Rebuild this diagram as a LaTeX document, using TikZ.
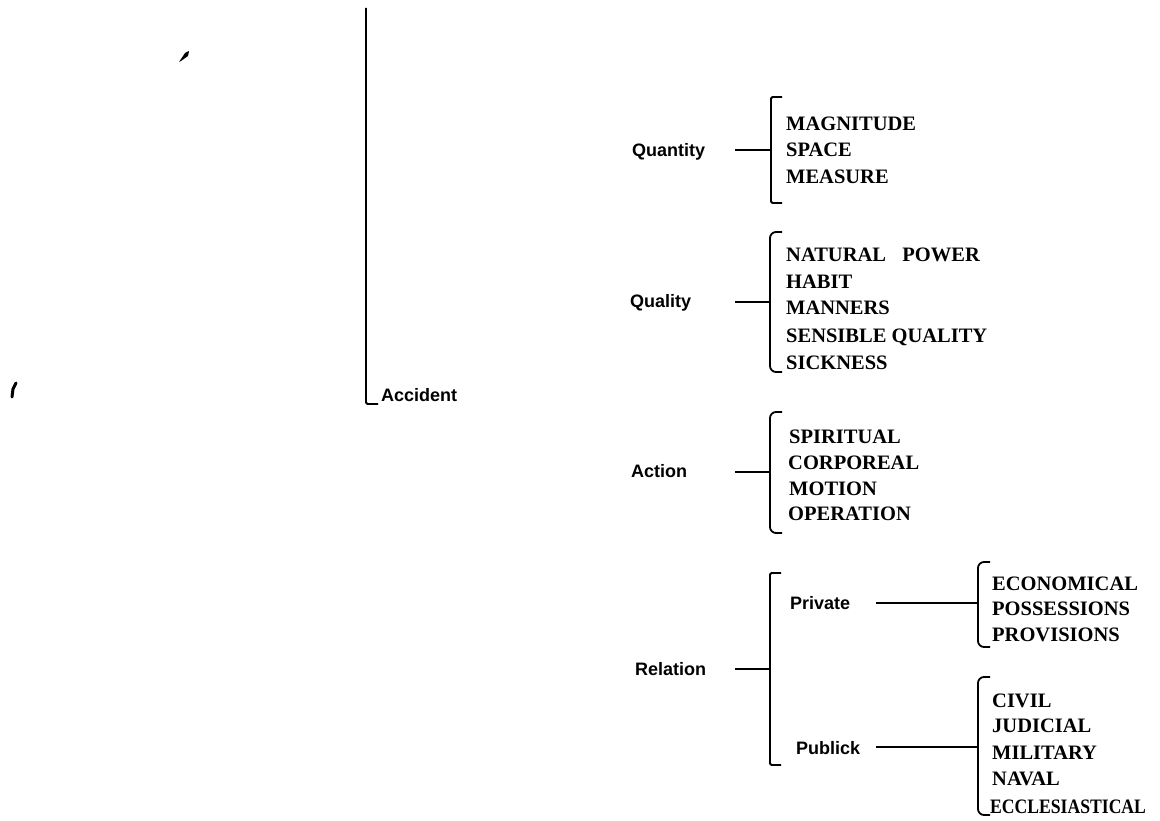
\documentclass[tikz,border=0pt]{standalone}
\usepackage{fontspec}
\newfontfamily\itemfam{Liberation Serif}
\newfontfamily\labfam{Liberation Sans}
\begin{document}
\begin{tikzpicture}[x=1pt,y=-1pt,
  item/.style={font=\itemfam\bfseries\fontsize{20.5}{24}\selectfont, anchor=base west, inner sep=0pt},
  lab/.style={font=\labfam\bfseries\fontsize{18}{22}\selectfont, anchor=base west, inner sep=0pt},
  conn/.style={line width=1.6pt},
  brk/.style={line width=1.8pt, rounded corners=1.5pt},
  curvedbrk/.style={line width=1.8pt, rounded corners=6pt}]
\useasboundingbox (0,0) rectangle (1160,821);

% stray marks of the scan
\fill (179,62) -- (185,53) -- (189,51) -- (188,56) -- (181,61) -- cycle;
\draw[line width=3pt, line cap=round] (12,397) -- (13,389) -- (16,383);

% main bracket
\coordinate (mT) at (366,8);
\coordinate (mB) at (366,404);
\draw[brk] (mT) -- (mB) -- ++(12,0);
\node[lab] (acc) at (381,401) {Accident};

% Quantity
\node[lab] (qty) at (632,157) {Quantity};
\coordinate (qtyS) at (735,150);
\coordinate (qtyB) at (771,150);
\coordinate (qtyT) at (771,97);
\coordinate (qtyE) at (771,203);
\draw[conn] (qtyS) -- (qtyB);
\draw[brk] ([xshift=11pt]qtyT) -- (qtyT) -- (qtyE) -- ([xshift=11pt]qtyE);
\node[item] (q1) at (786,131) {MAGNITUDE};
\node[item] (q2) at (786,157) {SPACE};
\node[item] (q3) at (786,184) {MEASURE};

% Quality
\node[lab] (qual) at (630,308) {Quality};
\coordinate (qualS) at (735,302);
\coordinate (qualB) at (770,302);
\coordinate (qualT) at (770,232);
\coordinate (qualE) at (770,372);
\draw[conn] (qualS) -- (qualB);
\draw[curvedbrk] ([xshift=12pt]qualT) -- (qualT) -- (qualE) -- ([xshift=12pt]qualE);
\node[item] (l1) at (786,262) {NATURAL\hspace{0.8em}POWER};
\node[item] (l2) at (786,288) {HABIT};
\node[item] (l3) at (786,315) {MANNERS};
\node[item] (l4) at (786,342) {SENSIBLE QUALITY};
\node[item] (l5) at (786,369) {SICKNESS};

% Action
\node[lab] (act) at (631,477) {Action};
\coordinate (actS) at (735,472);
\coordinate (actB) at (770,472);
\coordinate (actT) at (770,412);
\coordinate (actE) at (770,533);
\draw[conn] (actS) -- (actB);
\draw[curvedbrk] ([xshift=12pt]actT) -- (actT) -- (actE) -- ([xshift=12pt]actE);
\node[item] (a1) at (789,443) {SPIRITUAL};
\node[item] (a2) at (788,469) {CORPOREAL};
\node[item] (a3) at (789,495) {MOTION};
\node[item] (a4) at (788,520) {OPERATION};

% Relation
\node[lab] (rel) at (635,675) {Relation};
\coordinate (relS) at (735,669);
\coordinate (relB) at (770,669);
\coordinate (relT) at (770,573);
\coordinate (relE) at (770,765);
\draw[conn] (relS) -- (relB);
\draw[brk] ([xshift=11pt]relT) -- (relT) -- (relE) -- ([xshift=11pt]relE);

% Private
\node[lab] (priv) at (790,609) {Private};
\coordinate (privS) at (876,603);
\coordinate (privB) at (978,603);
\coordinate (privT) at (978,562);
\coordinate (privE) at (978,647);
\draw[conn] (privS) -- (privB);
\draw[curvedbrk] ([xshift=12pt]privT) -- (privT) -- (privE) -- ([xshift=12pt]privE);
\node[item] (p1) at (992,590) {ECONOMICAL};
\node[item] (p2) at (992,615) {POSSESSIONS};
\node[item] (p3) at (992,641) {PROVISIONS};

% Publick
\node[lab] (pub) at (796,754) {Publick};
\coordinate (pubS) at (876,747);
\coordinate (pubB) at (978,747);
\coordinate (pubT) at (978,677);
\coordinate (pubE) at (978,815);
\draw[conn] (pubS) -- (pubB);
\draw[curvedbrk] ([xshift=12pt]pubT) -- (pubT) -- (pubE) -- ([xshift=12pt]pubE);
\node[item] (u1) at (992,707) {CIVIL};
\node[item] (u2) at (992,732) {JUDICIAL};
\node[item] (u3) at (992,759) {MILITARY};
\node[item] (u4) at (992,785) {NAVAL};
\node[item] (u5) at (990,813) {\scalebox{0.86}[1]{ECCLESIASTICAL}};
\end{tikzpicture}
\end{document}
